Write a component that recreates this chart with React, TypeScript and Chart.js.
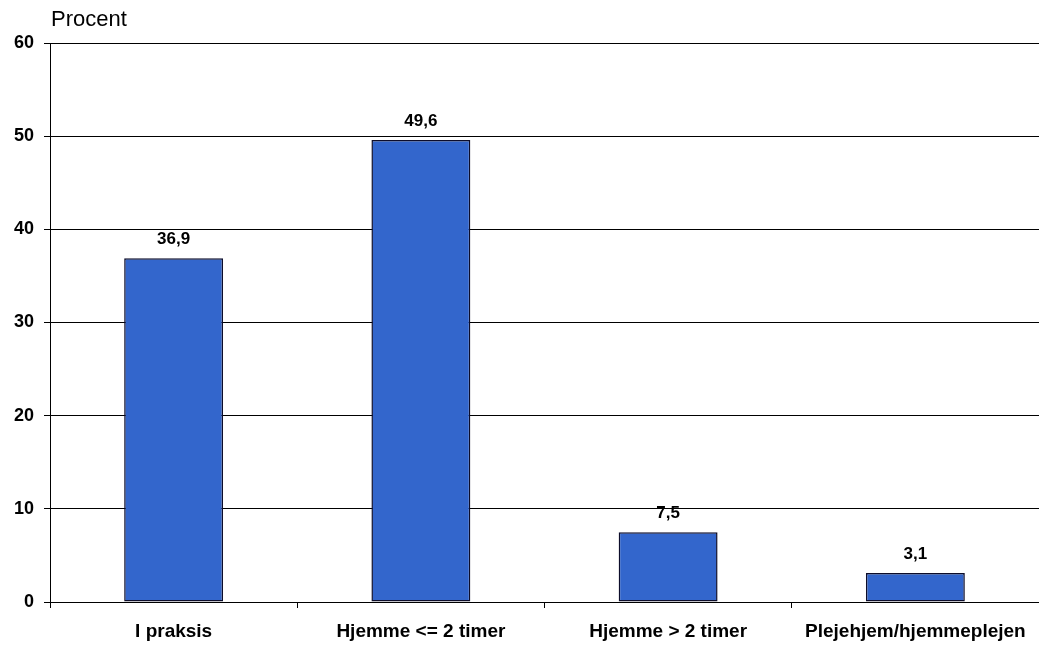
import React, { useEffect, useRef } from "react";
import { Chart, registerables } from "chart.js";

Chart.register(...registerables);

const categories = ["I praksis", "Hjemme <= 2 timer", "Hjemme > 2 timer", "Plejehjem/hjemmeplejen"];
const values = [36.9, 49.6, 7.5, 3.1];
const yTicks = [0, 10, 20, 30, 40, 50, 60];

const FONT = "'Liberation Sans', Arial, sans-serif";

const valueLabels = {
  id: "valueLabels",
  afterDatasetsDraw(chart: any) {
    const ctx = chart.ctx;
    const meta = chart.getDatasetMeta(0);
    ctx.save();
    ctx.font = `bold 17px ${FONT}`;
    ctx.fillStyle = "#000";
    ctx.textAlign = "center";
    ctx.textBaseline = "alphabetic";
    meta.data.forEach((bar: any, i: number) => {
      ctx.fillText(values[i].toFixed(1).replace(".", ","), bar.x, bar.y - 14);
    });
    ctx.restore();
  },
};

const axisTitle = {
  id: "axisTitle",
  afterDraw(chart: any) {
    const ctx = chart.ctx;
    ctx.save();
    ctx.font = `22px ${FONT}`;
    ctx.fillStyle = "#000";
    ctx.textAlign = "left";
    ctx.textBaseline = "alphabetic";
    ctx.fillText("Procent", 51, 26);
    ctx.restore();
  },
};

export default function App() {
  const ref = useRef<HTMLCanvasElement>(null);
  useEffect(() => {
    document.body.style.margin = "0";
    const chart = new Chart(ref.current!, {
      type: "bar",
      data: {
        labels: categories,
        datasets: [
          {
            data: values,
            backgroundColor: "#3366cc",
            borderColor: "#0d0d2a",
            borderWidth: 1.5,
            borderSkipped: false,
            categoryPercentage: 1,
            barPercentage: 0.4,
          },
        ],
      },
      options: {
        responsive: false,
        animation: false,
        layout: { padding: { top: 43, right: 0, left: 0, bottom: 0 } },
        plugins: { legend: { display: false }, tooltip: { enabled: false } },
        scales: {
          x: {
            offset: true,
            afterFit: (s: any) => {
              s.height = 45;
            },
            grid: {
              offset: true,
              drawOnChartArea: false,
              drawTicks: true,
              tickLength: 6,
              color: "#000",
            },
            border: { color: "#000", width: 1 },
            ticks: {
              color: "#000",
              font: { family: FONT, size: 19, weight: "bold" },
              padding: 12,
              maxRotation: 0,
              autoSkip: false,
            },
          },
          y: {
            min: 0,
            max: 60,
            afterFit: (s: any) => {
              s.width = 50;
            },
            afterBuildTicks: (s: any) => {
              s.ticks = yTicks.map((v) => ({ value: v }));
            },
            grid: { color: "#000", tickLength: 6, lineWidth: 1 },
            border: { color: "#000", width: 1 },
            ticks: {
              color: "#000",
              font: { family: FONT, size: 18, weight: "bold" },
              padding: 10,
            },
          },
        },
      },
      plugins: [valueLabels, axisTitle],
    });
    return () => chart.destroy();
  }, []);
  return (
    <div style={{ width: 1039, height: 647 }}>
      <canvas ref={ref} width={1039} height={647} />
    </div>
  );
}
